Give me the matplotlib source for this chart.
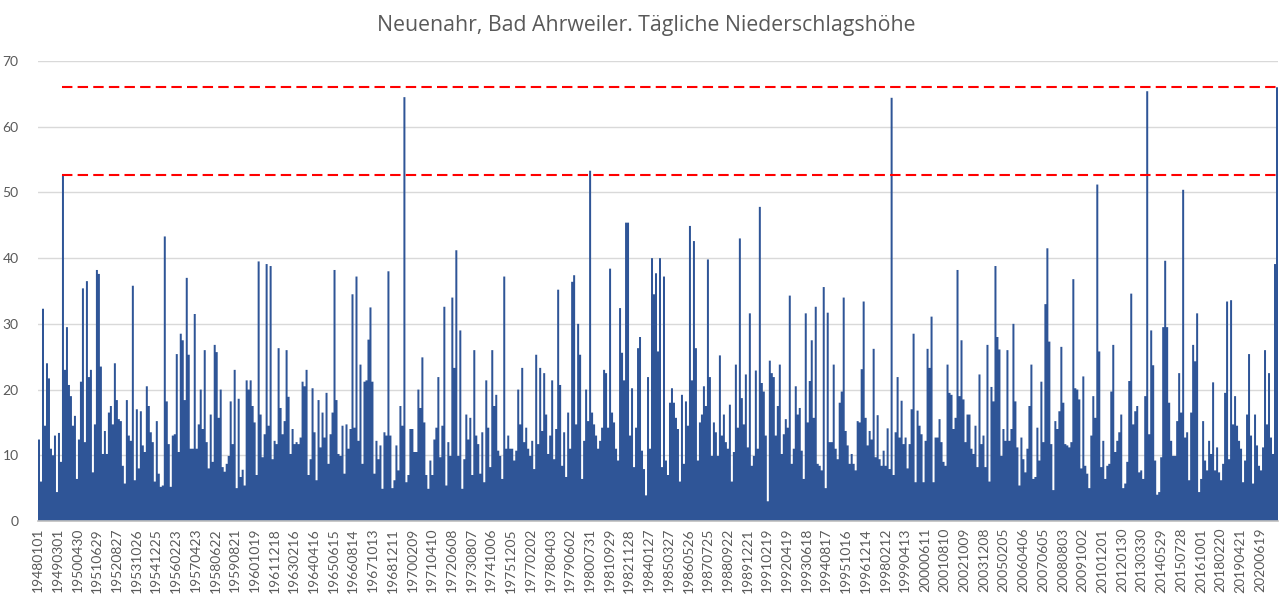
import numpy as np
import matplotlib
matplotlib.use("Agg")
import matplotlib.pyplot as plt

title = "Neuenahr, Bad Ahrweiler. Tägliche Niederschlagshöhe"

tick_labels = [
    "19480101", "19490301", "19500430", "19510629", "19520827", "19531026", "19541225",
    "19560223", "19570423", "19580622", "19590821", "19601019", "19611218", "19630216",
    "19640416", "19650615", "19660814", "19671013", "19681211", "19700209", "19710410",
    "19720608", "19730807", "19741006", "19751205", "19770202", "19780403", "19790602",
    "19800731", "19810929", "19821128", "19840127", "19850327", "19860526", "19870725",
    "19880922", "19891221", "19910219", "19920419", "19930618", "19940817", "19951016",
    "19961214", "19980212", "19990413", "20000611", "20010810", "20021009", "20031208",
    "20050205", "20060406", "20070605", "20080803", "20091002", "20101201", "20120130",
    "20130330", "20140529", "20150728", "20161001", "20180220", "20190421", "20200619",
]
label_step = 425          # rows between two axis labels
n_categories = 26740      # daily rows on the category axis

# maxima of the daily values in consecutive equal stretches
vals_1948_1954 = [12.4, 6, 32.3, 14.5, 24, 21.7, 11, 10, 13, 4.4, 13.4, 9, 52.7, 23, 29.5, 20.7,
                  19, 14.5, 16, 6.4, 12.4, 21.2, 35.4, 12, 36.5, 21.9, 23, 7.4, 14.7, 38.2, 37.6,
                  23.5, 10.2, 13.7, 10.2, 16.5, 17.5, 14.7, 24, 18.4, 15.5, 15.2, 8.4, 5.7, 18.4,
                  13, 12.2, 35.8, 6.2, 17, 8, 16.7, 11.5, 10.5, 20.5, 17.5, 13.5, 12, 6, 15.2, 7.2,
                  5.2, 5.4, 43.3, 18.2, 11.7, 5.2, 13, 13.2, 25.4, 10.5, 28.5, 27.5, 18.4, 37, 25.3]
vals_1955_1961 = [11, 11, 31.5, 11, 14.7, 20, 14, 26, 12, 8, 16.2, 9, 26.8, 25.7, 15.7, 20, 8.2,
                  7.5, 8.7, 9.9, 18.2, 11.7, 23, 5, 18.6, 6.7, 7.8, 5.4, 21.4, 20, 21.4, 17.5, 15,
                  7, 39.5, 16.2, 9.7, 13.2, 39.1, 14.5, 38.8, 9.4, 12.2, 11.7, 26.3, 17.2, 13.2,
                  15.2, 26, 18.9, 10.2, 14, 11.7, 12, 11.7, 12.7, 21.2, 20.5, 23, 7, 9.4, 20.2,
                  13.5, 6.2, 18.4, 11.2, 16.5, 12.7, 19.5, 8.7, 13.2, 16.5, 38.2, 18.4, 10.2, 9.9,
                  14.5]
vals_1962_1968 = [7.2, 14.7, 11, 14, 34.5, 14.2, 37.2, 12.2, 23.8, 8.7, 21.2, 21.4, 27.6, 32.5,
                  21.2, 7.2, 12.2, 9.4, 11.5, 4.9, 13.5, 13, 38, 13, 5, 6.2, 11.5, 7.7, 17.5, 14.5,
                  64.5, 5.9, 7, 14, 14, 10.5, 10.5, 20, 17.2, 24.9, 15, 7, 4.9, 9.2, 7, 12.4, 14.2,
                  21.9, 9.7, 14.5, 32.6, 5.4, 12, 9.9, 34, 23.3, 41.2, 9.9, 29, 4.9, 9.4, 16.2,
                  12.4, 15.7, 7, 26, 13, 11.7, 7.2, 13.5, 5.9, 21.4, 14.2, 8.2, 26, 17.5, 19.2, 10.7]
vals_1969_1975 = [9.9, 6.4, 37.2, 11, 13, 11, 11, 9.2, 10.7, 20, 14.7, 23.3, 12, 14.2, 11, 9.9,
                  12.2, 7.9, 25.3, 11.7, 23.3, 13.7, 22.5, 16.2, 10.2, 13, 21.4, 9.4, 14, 35.2,
                  20.7, 8.4, 13.5, 6.7, 16.5, 11, 36.4, 37.4, 14.7, 30, 25.3, 6.4, 12.2, 20, 15.2,
                  53.3, 16.5, 14.7, 13, 11, 12.2, 14.2, 23, 22.5, 14.2, 38.4, 16.5, 15, 11, 9.2,
                  32.4, 25.6, 21.4, 45.4, 45.4, 13, 20.2, 8.2, 14.2, 26.3, 28, 10.7, 7.9, 3.9,
                  21.9, 11, 40]
vals_1976_1982 = [34.5, 37.7, 25.8, 40, 8.2, 37.2, 9.2, 7, 18, 20.2, 18, 15.7, 14, 6, 19.2, 8.7,
                  18.2, 14.5, 44.9, 21.4, 42.6, 26.3, 9.2, 15, 16.2, 20.5, 17.5, 39.8, 21.9, 9.9,
                  15, 13.5, 9.9, 25.2, 13, 16.2, 12, 11, 17.7, 6, 10.5, 23.8, 14.2, 43, 18.7, 14.7,
                  22.3, 11.2, 31.6, 8.4, 9.9, 22.9, 11, 47.8, 21, 19.7, 13, 3, 24.4, 22.5, 21.9,
                  13, 17.5, 23.8, 10.2, 13.2, 15.5, 14.2, 34.3, 8.7, 11, 20.5, 16.2, 17.2, 10.7,
                  6.4, 31.6, 15]
vals_1983_1989 = [21.3, 27.5, 15.7, 32.6, 8.7, 8.4, 7.7, 35.6, 5, 31.7, 12, 12, 23.8, 11, 9.4, 18,
                  19.7, 34, 13.7, 11.5, 8.7, 10.2, 8.7, 7.7, 15.2, 15, 23.1, 33.4, 15.7, 11.5,
                  13.7, 12.4, 26.2, 9.7, 16.1, 9.4, 8.4, 10.7, 8.4, 14.1, 7.9, 64.4, 7, 13.5, 21.9,
                  12.7, 18.3, 11.7, 12.7, 8, 11.7, 17, 28.5, 5.9, 16.8, 14.5, 13.2, 5.9, 12.2,
                  26.2, 23.3, 31.1, 5.9, 12.7, 12.7, 15.5, 12, 9, 8.4, 23.8, 19.5, 19.2, 14, 15.7,
                  38.2, 19, 27.5]
vals_1990_1996 = [18.5, 12, 16.2, 16.2, 11, 10.2, 14.5, 8.2, 22.3, 11.7, 13, 8.2, 26.8, 6, 20.4,
                  18.2, 38.8, 28, 26.1, 9.9, 14, 12.2, 26, 12.2, 14, 30, 18.2, 11.2, 5.4, 12.7,
                  9.4, 7.4, 11, 17.5, 23.8, 6.4, 6.7, 14.2, 9.2, 21.2, 12, 33, 41.5, 27.3, 11.7,
                  4.7, 15.2, 14, 16.7, 26.5, 18, 11.7, 11.5, 11.2, 12, 36.8, 20.2, 20, 18.5, 8, 22,
                  8.4, 7.2, 5, 13, 19, 15.7, 51.2, 25.8, 8.2, 12.2, 6.4, 8.4, 8.7, 19.7, 26.8,
                  10.5, 12.2]
vals_1997_2021 = [13.5, 16.2, 5, 5.7, 9, 21.3, 34.6, 14.7, 16.7, 17.5, 7.4, 7.7, 6.4, 19, 65.4,
                  13.2, 29, 23.7, 9.2, 4, 4.4, 9.7, 29.5, 39.6, 29.5, 18, 12.2, 9.9, 9.9, 15.2,
                  22.5, 16.5, 50.4, 12.7, 13.5, 6.2, 16.5, 26.8, 24.3, 31.6, 4.4, 6.4, 15.2, 9.2,
                  7.7, 12.2, 10.2, 21.1, 7.7, 11.2, 7.4, 6.2, 8.7, 19.5, 33.4, 9.4, 33.6, 14.7, 19,
                  14.5, 12.2, 11, 5.9, 9.2, 16.2, 25.4, 13, 5.7, 16.2, 11.5, 8.4, 7.7, 11.2, 26,
                  14.7, 22.5, 12.7, 10.2, 39.1, 66]

reference_levels = [66.1, 52.7]

values = np.array(vals_1948_1954 + vals_1955_1961 + vals_1962_1968 + vals_1969_1975 +
                  vals_1976_1982 + vals_1983_1989 + vals_1990_1996 + vals_1997_2021, dtype=float)

plt.rcParams['font.family'] = ['Lato', 'DejaVu Sans']
grey = '#595959'
blue = '#2F5597'

fig = plt.figure(figsize=(12.8, 5.96), dpi=100)
ax = fig.add_axes([38 / 1280, 1 - 521 / 596, 1240 / 1280, 460 / 596])

edges = np.linspace(0, n_categories, len(values) + 1)
ax.stairs(values, edges, fill=True, color=blue, linewidth=0, zorder=2)

start = edges[np.argmax(values >= reference_levels[1] - 0.5)]
ax.hlines(reference_levels, xmin=start, xmax=n_categories, colors='#FF0000',
          linestyles=(0, (5, 2.5)), linewidth=1.5, zorder=3)

ax.set_xlim(0, n_categories)
ax.set_ylim(0, 70)
ax.set_yticks(np.arange(0, 71, 10))
ticks = np.arange(len(tick_labels)) * label_step + 0.5
ax.set_xticks(ticks)
ax.set_xticklabels(tick_labels, rotation=90, fontsize=10, color=grey)
ax.tick_params(axis='x', length=0, pad=5)
ax.tick_params(axis='y', length=0, pad=14, labelsize=10, labelcolor=grey)

ax.yaxis.grid(True, color='#D9D9D9', linewidth=1.0, zorder=0)
ax.set_axisbelow(True)
for s in ['top', 'right', 'left']:
    ax.spines[s].set_visible(False)
ax.spines['bottom'].set_color('#BFBFBF')
ax.spines['bottom'].set_linewidth(1.2)
ax.spines['bottom'].set_zorder(4)

fig.text(0.505, 1 - 25 / 596, title, ha='center', va='center', fontsize=15.3, color=grey,
         family=['Open Sans', 'DejaVu Sans'])

fig.savefig('out.png', dpi=100)
